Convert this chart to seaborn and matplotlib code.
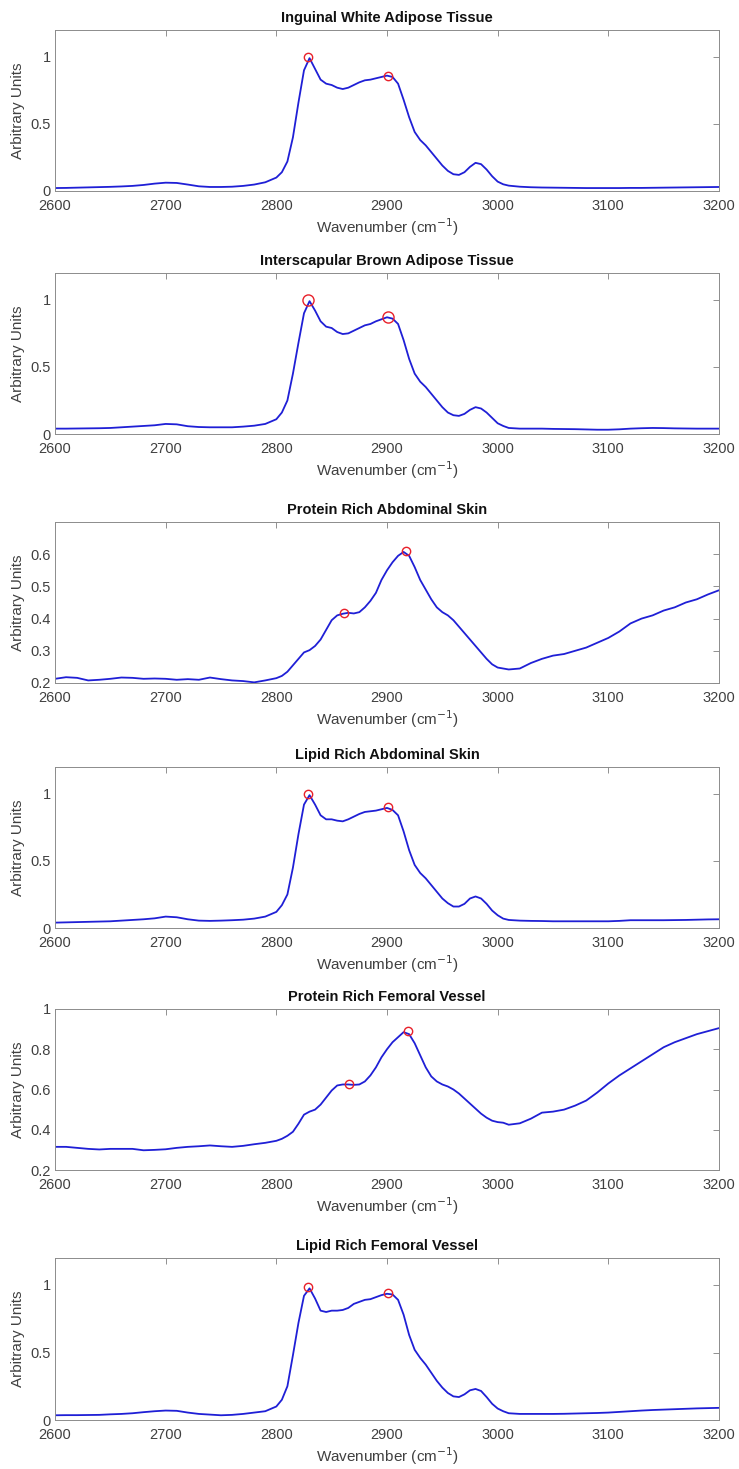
import numpy as np
import pandas as pd
import matplotlib
matplotlib.use("Agg")
import matplotlib.pyplot as plt
import seaborn as sns

# wavenumber grid (cm-1): coarse at the ends, finer across the CH band
wn = ([2600, 2610, 2620, 2630, 2640, 2650, 2660, 2670, 2680, 2690, 2700,
       2710, 2720, 2730, 2740, 2750, 2760, 2770, 2780, 2790, 2800]
      + list(range(2805, 3011, 5))
      + [3020, 3030, 3040, 3050, 3060, 3070, 3080, 3090, 3100, 3110, 3120,
         3130, 3140, 3150, 3160, 3170, 3180, 3190, 3200])

iwat = [0.022, 0.023, 0.025, 0.027, 0.029, 0.031, 0.034, 0.038, 0.045, 0.055, 0.062,
        0.060, 0.048, 0.035, 0.030, 0.030, 0.032, 0.038, 0.048, 0.065, 0.10,
        0.14, 0.22, 0.40, 0.66, 0.90, 0.99, 0.91, 0.83, 0.80, 0.79, 0.77, 0.76,
        0.77, 0.79, 0.81, 0.825, 0.83, 0.84, 0.85, 0.86, 0.85, 0.80, 0.68, 0.55,
        0.44, 0.38, 0.34, 0.29, 0.24, 0.19, 0.15, 0.125, 0.12, 0.14, 0.18, 0.21,
        0.20, 0.16, 0.11, 0.07, 0.05, 0.04,
        0.032, 0.028, 0.026, 0.025, 0.024, 0.023, 0.022, 0.022, 0.022, 0.022,
        0.023, 0.023, 0.024, 0.025, 0.026, 0.027, 0.028, 0.029, 0.030]

ibat = [0.040, 0.040, 0.041, 0.042, 0.043, 0.045, 0.050, 0.055, 0.060, 0.065, 0.075,
        0.072, 0.058, 0.052, 0.050, 0.050, 0.050, 0.055, 0.062, 0.075, 0.11,
        0.16, 0.25, 0.45, 0.68, 0.90, 0.99, 0.92, 0.84, 0.80, 0.79, 0.76, 0.745,
        0.75, 0.77, 0.79, 0.81, 0.82, 0.84, 0.855, 0.87, 0.86, 0.82, 0.70, 0.56,
        0.45, 0.39, 0.35, 0.30, 0.25, 0.20, 0.16, 0.14, 0.135, 0.15, 0.18, 0.20,
        0.19, 0.16, 0.12, 0.08, 0.06, 0.045,
        0.040, 0.040, 0.040, 0.038, 0.037, 0.036, 0.034, 0.032, 0.032, 0.035,
        0.040, 0.043, 0.045, 0.044, 0.042, 0.041, 0.040, 0.040, 0.040]

pras = [0.213, 0.218, 0.216, 0.208, 0.210, 0.213, 0.217, 0.216, 0.213, 0.214, 0.213,
        0.210, 0.212, 0.210, 0.217, 0.212, 0.208, 0.206, 0.202, 0.208, 0.215,
        0.222, 0.235, 0.255, 0.275, 0.295, 0.302, 0.315, 0.335, 0.365, 0.395, 0.41, 0.415,
        0.418, 0.416, 0.42, 0.435, 0.455, 0.48, 0.52, 0.55, 0.575, 0.595, 0.607, 0.595,
        0.56, 0.52, 0.49, 0.46, 0.435, 0.42, 0.41, 0.395, 0.375, 0.355, 0.335, 0.315,
        0.295, 0.275, 0.258, 0.248, 0.245, 0.242,
        0.245, 0.262, 0.275, 0.285, 0.290, 0.300, 0.310, 0.325, 0.340, 0.360,
        0.385, 0.400, 0.410, 0.425, 0.435, 0.450, 0.460, 0.475, 0.488]

lras = [0.040, 0.042, 0.044, 0.046, 0.048, 0.050, 0.055, 0.060, 0.065, 0.072, 0.085,
        0.080, 0.065, 0.055, 0.053, 0.055, 0.058, 0.062, 0.070, 0.085, 0.12,
        0.17, 0.25, 0.45, 0.70, 0.92, 0.99, 0.92, 0.84, 0.81, 0.81, 0.80, 0.795,
        0.81, 0.83, 0.85, 0.865, 0.87, 0.875, 0.885, 0.895, 0.88, 0.84, 0.72, 0.58,
        0.47, 0.41, 0.37, 0.32, 0.27, 0.22, 0.185, 0.16, 0.16, 0.18, 0.22, 0.235,
        0.22, 0.18, 0.13, 0.095, 0.07, 0.06,
        0.055, 0.053, 0.052, 0.050, 0.050, 0.050, 0.050, 0.050, 0.050, 0.053,
        0.058, 0.058, 0.058, 0.058, 0.059, 0.060, 0.062, 0.064, 0.065]

prfv = [0.315, 0.315, 0.310, 0.305, 0.302, 0.305, 0.305, 0.305, 0.298, 0.300, 0.303,
        0.310, 0.315, 0.318, 0.322, 0.318, 0.315, 0.320, 0.328, 0.335, 0.345,
        0.355, 0.37, 0.39, 0.43, 0.475, 0.49, 0.50, 0.525, 0.56, 0.595, 0.62, 0.625,
        0.625, 0.623, 0.625, 0.64, 0.67, 0.71, 0.76, 0.80, 0.835, 0.86, 0.885, 0.875,
        0.83, 0.77, 0.71, 0.665, 0.64, 0.625, 0.615, 0.60, 0.58, 0.555, 0.53, 0.505,
        0.48, 0.46, 0.445, 0.438, 0.435, 0.425,
        0.432, 0.455, 0.485, 0.490, 0.500, 0.520, 0.545, 0.585, 0.630, 0.670,
        0.705, 0.740, 0.775, 0.810, 0.835, 0.855, 0.875, 0.890, 0.905]

lrfv = [0.035, 0.036, 0.036, 0.037, 0.038, 0.042, 0.045, 0.050, 0.058, 0.065, 0.070,
        0.068, 0.055, 0.045, 0.040, 0.035, 0.038, 0.045, 0.055, 0.065, 0.10,
        0.15, 0.25, 0.48, 0.72, 0.92, 0.975, 0.90, 0.81, 0.80, 0.81, 0.81, 0.815,
        0.83, 0.86, 0.875, 0.89, 0.895, 0.91, 0.925, 0.935, 0.93, 0.89, 0.78, 0.63,
        0.52, 0.46, 0.41, 0.35, 0.29, 0.24, 0.20, 0.175, 0.17, 0.19, 0.22, 0.23,
        0.215, 0.17, 0.12, 0.085, 0.065, 0.05,
        0.045, 0.045, 0.045, 0.045, 0.046, 0.048, 0.050, 0.052, 0.055, 0.060,
        0.065, 0.070, 0.074, 0.077, 0.080, 0.083, 0.086, 0.088, 0.090]

titles = ["Inguinal White Adipose Tissue", "Interscapular Brown Adipose Tissue",
          "Protein Rich Abdominal Skin", "Lipid Rich Abdominal Skin",
          "Protein Rich Femoral Vessel", "Lipid Rich Femoral Vessel"]
spectra = [iwat, ibat, pras, lras, prfv, lrfv]

# picked peaks (wavenumber, intensity)
peak_x = [[2829, 2901], [2829, 2901], [2861, 2917], [2829, 2901], [2866, 2919], [2829, 2901]]
peak_y = [[1.0, 0.86], [1.0, 0.87], [0.418, 0.61], [1.0, 0.90], [0.628, 0.89], [0.985, 0.94]]

ylims = [(0, 1.2), (0, 1.2), (0.2, 0.7), (0, 1.2), (0.2, 1.0), (0, 1.2)]
yticks = [[0, 0.5, 1], [0, 0.5, 1], [0.2, 0.3, 0.4, 0.5, 0.6], [0, 0.5, 1],
          [0.2, 0.4, 0.6, 0.8, 1], [0, 0.5, 1]]
ytlabels = [["0", "0.5", "1"], ["0", "0.5", "1"], ["0.2", "0.3", "0.4", "0.5", "0.6"],
            ["0", "0.5", "1"], ["0.2", "0.4", "0.6", "0.8", "1"], ["0", "0.5", "1"]]
msize = [6, 8, 6, 6, 6, 6]

sns.set_style("white")
plt.rcParams["font.family"] = ["Liberation Sans", "DejaVu Sans"]

W, H = 739, 1469
fig = plt.figure(figsize=(W / 100, H / 100), dpi=100)

# axes boxes in pixels (top, bottom), left/right shared
boxes = [(30, 191), (273, 434), (522, 683), (767, 928), (1009, 1170), (1258, 1420)]
left, right = 55, 719
grey = "#404040"

for i in range(6):
    top, bot = boxes[i]
    ax = fig.add_axes([left / W, 1 - bot / H, (right - left) / W, (bot - top) / H])
    df = pd.DataFrame({"wn": wn, "y": spectra[i]})
    sns.lineplot(data=df, x="wn", y="y", ax=ax, color="#1f1fd6", lw=1.3, estimator=None)
    ax.plot(peak_x[i], peak_y[i], "o", mfc="none", mec="#e8202a", ms=msize[i], mew=1.0)
    ax.set_xlim(2600, 3200)
    ax.set_ylim(*ylims[i])
    ax.set_xticks([2600, 2700, 2800, 2900, 3000, 3100, 3200])
    ax.set_yticks(yticks[i])
    ax.set_yticklabels(ytlabels[i])
    ax.tick_params(direction="in", length=4, width=0.6, colors="#7f7f7f",
                   labelcolor=grey, labelsize=10.5, top=True, right=True)
    ax.tick_params(axis="x", pad=6)
    ax.tick_params(axis="y", pad=3)
    for s in ax.spines.values():
        s.set_color("#8c8c8c")
        s.set_linewidth(0.7)
    ax.set_xlabel("Wavenumber (cm$^{-1}$)", fontsize=11, color=grey, labelpad=2)
    ax.set_ylabel("Arbitrary Units", fontsize=11, color=grey, labelpad=4)
    ax.set_title(titles[i], fontsize=10.5, fontweight="bold", color="#111111", pad=6)

fig.savefig("out.png", dpi=100)
